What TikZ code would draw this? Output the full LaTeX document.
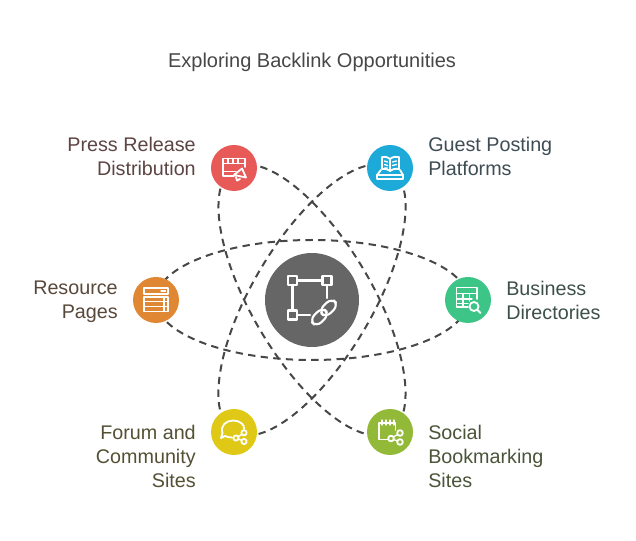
\documentclass[tikz,border=0pt]{standalone}
\usepackage{fontspec}
\setmainfont{Liberation Sans}
\usetikzlibrary{backgrounds}

\definecolor{hubgray}{HTML}{666666}
\definecolor{pressred}{HTML}{E85A58}
\definecolor{guestblue}{HTML}{1EAAD9}
\definecolor{resourceorange}{HTML}{E08733}
\definecolor{businessgreen}{HTML}{3CC586}
\definecolor{forumyellow}{HTML}{E0C916}
\definecolor{socialgreen}{HTML}{92B937}

\tikzset{
	dot/.style={circle,inner sep=0pt,minimum size=34.5pt},
	orbit/.style={line width=1.5pt,draw=black!72,dash pattern=on 5.5pt off 4pt},
	icon/.style={draw=white,line width=1.35pt,line join=round,line cap=round},
	thinicon/.style={draw=white,line width=1pt,line cap=round},
	caption/.style={font=\fontsize{14.8}{18}\selectfont,inner sep=0pt},
}

\begin{document}
\begin{tikzpicture}[x=0.75pt,y=0.75pt,yscale=-1,xscale=1]
	\useasboundingbox (0,0) rectangle (636,541);

	% Text Node
	\node (title) at (312,62) [font=\fontsize{15}{18}\selectfont,inner sep=0pt,text=black!72] {Exploring Backlink Opportunities};
	% Text Node
	\node (hub) at (312,300) [circle,inner sep=0pt,minimum size=70.5pt,fill=hubgray] {};
	\node (press) at (234,168) [dot,fill=pressred] {};
	\node (guest) at (390,168) [dot,fill=guestblue] {};
	\node (resource) at (156,300) [dot,fill=resourceorange] {};
	\node (business) at (468,300) [dot,fill=businessgreen] {};
	\node (forum) at (234,432) [dot,fill=forumyellow] {};
	\node (social) at (390,432) [dot,fill=socialgreen] {};
	% Text Node
	\node (presstext) at (196,156) [caption,anchor=east,align=right,text={rgb,255:red,92;green,68;blue,66}] {Press Release\\Distribution};
	\node (guesttext) at (428,156) [caption,anchor=west,align=left,text={rgb,255:red,62;green,76;blue,84}] {Guest Posting\\Platforms};
	\node (resourcetext) at (118,301.5) [caption,anchor=east,align=right,text={rgb,255:red,88;green,72;blue,58}] {Resource\\Pages};
	\node (businesstext) at (506,300) [caption,anchor=west,align=left,text={rgb,255:red,60;green,80;blue,72}] {Business\\Directories};
	\node (forumtext) at (196,456) [caption,anchor=east,align=right,text={rgb,255:red,84;green,80;blue,52}] {Forum and\\Community\\Sites};
	\node (socialtext) at (428,456) [caption,anchor=west,align=left,text={rgb,255:red,74;green,84;blue,56}] {Social\\Bookmarking\\Sites};

	% Connection
	\begin{pgfonlayer}{background}
	\draw [orbit] (resource.center) arc [start angle=180,end angle=0,x radius=156,y radius=60];
	\draw [orbit] (business.center) arc [start angle=0,end angle=-180,x radius=156,y radius=60];
	\draw [orbit,rotate=59.4] (press.center) arc [start angle=180,end angle=0,x radius=153.3,y radius=60];
	\draw [orbit,rotate=59.4] (social.center) arc [start angle=0,end angle=-180,x radius=153.3,y radius=60];
	\draw [orbit,rotate=-59.4] (forum.center) arc [start angle=180,end angle=0,x radius=153.3,y radius=60];
	\draw [orbit,rotate=-59.4] (guest.center) arc [start angle=0,end angle=-180,x radius=153.3,y radius=60];
	\end{pgfonlayer}

	% Hub icon
	\begin{scope}[shift={(312,300)},line width=1.6pt]
	\draw [icon,line width=1.6pt] (-15,-19.5) -- (10.5,-19.5);
	\draw [icon,line width=1.6pt] (-19.5,-15) -- (-19.5,10.5);
	\draw [icon,line width=1.6pt] (15,-15) -- (15,-2);
	\draw [icon,line width=1.6pt] (-15,15) -- (-2,15);
	\draw [icon,line width=1.6pt] (-24,-24) rectangle (-15,-15);
	\draw [icon,line width=1.6pt] (10.5,-24) rectangle (19.5,-15);
	\draw [icon,line width=1.6pt] (-24,10.5) rectangle (-15,19.5);
	\draw [icon,line width=1.6pt,rotate around={-45:(12,12.5)},rounded corners=5] (-3.5,7.5) rectangle (14.5,17.5);
	\draw [icon,line width=1.6pt,rotate around={-45:(12,12.5)},rounded corners=5] (9.5,7.5) rectangle (27.5,17.5);
	\end{scope}

	% Press icon
	\begin{scope}[shift={(234,168)}]
	\draw [icon] (-11,5) -- (-11,-9.5) -- (11,-9.5) -- (11,-1);
	\draw [icon] (-11,5) -- (-11,8) -- (0,8);
	\draw [thinicon] (-11,-4.5) -- (11,-4.5);
	\draw [thinicon] (-11,3.5) -- (2,3.5);
	\draw [thinicon] (-6,-9.5) -- (-6,-4.5) (-1,-9.5) -- (-1,-4.5) (4,-9.5) -- (4,-4.5);
	\draw [icon,fill=pressred] (0,7) -- (8,0.5) -- (12,9.5) -- cycle;
	\draw [icon] (2,9) -- (3,12.5) -- (6,11);
	\end{scope}

	% Guest icon
	\begin{scope}[shift={(390,168)}]
	\draw [icon] (0,-9) .. controls (-3,-11.5) and (-6,-11.5) .. (-8,-11) -- (-8,1) .. controls (-5,0.5) and (-2,1) .. (0,3) .. controls (2,1) and (5,0.5) .. (9,1) -- (9,-11) .. controls (6,-11.5) and (3,-11.5) .. (0,-9) -- (0,3);
	\draw [thinicon] (-5.5,-7) -- (-2.5,-6) (-5.5,-3.5) -- (-2.5,-2.5) (-5.5,0) -- (-2.5,0) (2.5,-6) -- (6.5,-7) (2.5,-2.5) -- (6.5,-3.5);
	\draw [icon] (-9,2) -- (-13,7) -- (-13,11) -- (13,11) -- (13,7) -- (10,2);
	\draw [icon] (-13,7) -- (13,7);
	\end{scope}

	% Resource icon
	\begin{scope}[shift={(156,300)}]
	\draw [icon] (-12,-12) rectangle (12,-6);
	\draw [icon] (-12,-3) rectangle (12,1.5);
	\draw [icon] (-12,1.5) rectangle (12,6.5);
	\draw [icon] (-12,6.5) rectangle (12,11.5);
	\draw [thinicon] (5,-9) -- (9.5,-9);
	\draw [thinicon] (8,-3) -- (8,11.5);
	\end{scope}

	% Business icon
	\begin{scope}[shift={(468,300)}]
	\draw [icon] (0,7) -- (-11.5,7) -- (-11.5,-12.5) -- (9,-12.5) -- (9,-1);
	\draw [icon] (-11.5,-6.5) -- (9,-6.5);
	\draw [thinicon] (-11.5,-1) -- (4,-1) (-11.5,3.5) -- (0,3.5) (-5,-6.5) -- (-5,7) (1.5,-6.5) -- (1.5,1);
	\draw [icon,fill=businessgreen] (6,6.5) circle [radius=4.5];
	\draw [icon] (9.5,10) -- (12.5,13);
	\end{scope}

	% Forum icon
	\begin{scope}[shift={(234,432)}]
	\draw [icon] (-2,5.5) .. controls (-5,5.5) and (-7,5) .. (-9,4) -- (-13,6) -- (-11.5,1) .. controls (-14,-6) and (-8,-11.5) .. (-1,-11.5) .. controls (6,-11.5) and (11,-7) .. (10,-3);
	\draw [thinicon] (2,6) -- (10,1) (2,6) -- (10,9.5);
	\draw [icon,fill=forumyellow] (2,6) circle [radius=2.6];
	\draw [icon,fill=forumyellow] (10,0.8) circle [radius=2.6];
	\draw [icon,fill=forumyellow] (10,9.5) circle [radius=2.6];
	\end{scope}

	% Social icon
	\begin{scope}[shift={(390,432)}]
	\draw [icon] (-2,7.5) -- (-11,7.5) -- (-11,-9) -- (5.5,-9) -- (5.5,-2);
	\draw [thinicon] (-8,-12) -- (-8,-7) (-4,-12) -- (-4,-7) (0,-12) -- (0,-7) (4,-12) -- (4,-7);
	\draw [thinicon] (1,6.5) -- (10,1) (1,6.5) -- (10,10);
	\draw [icon,fill=socialgreen] (1,6.5) circle [radius=2.8];
	\draw [icon,fill=socialgreen] (10,1) circle [radius=2.8];
	\draw [icon,fill=socialgreen] (10,10) circle [radius=2.8];
	\end{scope}

\end{tikzpicture}
\end{document}
